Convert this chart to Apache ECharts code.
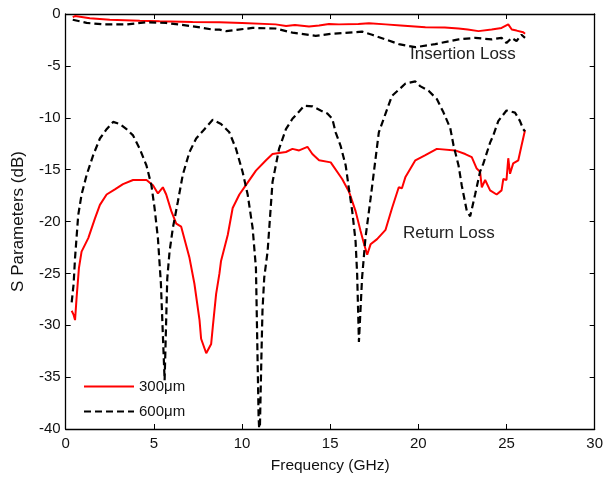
<!DOCTYPE html>
<html>
<head>
<meta charset="utf-8">
<script src="https://cdn.jsdelivr.net/npm/echarts@6/dist/echarts.min.js"></script>
<style>
  html, body { margin: 0; padding: 0; background: #fff; }
  #chart { width: 606px; height: 479px; }
</style>
</head>
<body>
<div id="chart"></div>
<script>
// Return loss, 300 um line
var rl300Freq = [0.34, 0.45, 0.53, 0.62, 0.75, 0.9, 1.28, 1.66, 1.94, 2.32, 2.79, 3.25, 3.82, 4.2, 4.58, 4.95, 5.23, 5.51, 5.7, 5.99, 6.27, 6.55, 7.02, 7.3, 7.59, 7.68, 7.97, 8.25, 8.34, 8.53, 8.72, 8.81, 9.19, 9.47, 9.85, 10.22, 10.79, 11.36, 11.73, 12.1, 12.49, 12.86, 13.24, 13.71, 13.99, 14.37, 15.03, 15.68, 16.06, 16.44, 16.72, 16.91, 17.1, 17.29, 17.66, 18.14, 18.51, 18.89, 19.07, 19.27, 19.83, 20.4, 21.05, 22.09, 22.66, 23.03, 23.31, 23.5, 23.6, 23.79, 24.07, 24.44, 24.72, 24.82, 25.0, 25.1, 25.2, 25.38, 25.67, 25.85, 26.05];
var rl300Db = [-28.6, -29.0, -29.5, -27.3, -24.5, -22.9, -21.6, -19.7, -18.4, -17.4, -16.9, -16.4, -16.0, -16.0, -16.0, -16.5, -17.3, -16.7, -17.4, -19.0, -20.2, -20.5, -23.5, -26.0, -29.5, -31.3, -32.7, -31.8, -30.2, -27.0, -25.0, -23.8, -21.3, -18.7, -17.4, -16.5, -15.1, -14.1, -13.5, -13.4, -13.3, -13.0, -13.15, -12.8, -13.5, -14.1, -14.3, -15.9, -17.1, -19.0, -20.9, -22.1, -23.2, -22.2, -21.7, -20.8, -18.7, -16.7, -16.8, -15.7, -14.1, -13.6, -13.0, -13.15, -13.5, -13.8, -14.9, -15.2, -16.7, -16.0, -17.0, -17.4, -17.0, -15.9, -16.0, -13.9, -15.4, -14.4, -14.1, -12.7, -11.2];

// Return loss, 600 um line
var rl600Freq = [0.34, 0.45, 0.53, 0.71, 0.9, 1.19, 1.56, 1.94, 2.32, 2.69, 3.07, 3.45, 3.82, 4.2, 4.58, 4.86, 5.04, 5.23, 5.4, 5.61, 5.76, 5.89, 6.08, 6.36, 6.64, 7.02, 7.4, 7.87, 8.34, 8.81, 9.28, 9.66, 10.03, 10.32, 10.6, 10.79, 10.94, 11.0, 11.1, 11.16, 11.26, 11.45, 11.73, 12.1, 12.49, 12.86, 13.24, 13.52, 13.99, 14.46, 14.84, 15.12, 15.31, 15.59, 15.88, 16.06, 16.25, 16.44, 16.53, 16.63, 16.81, 17.0, 17.29, 17.76, 18.14, 18.5, 18.89, 19.27, 19.83, 20.1, 20.58, 21.05, 21.43, 21.81, 22.0, 22.28, 22.46, 22.75, 22.94, 23.22, 23.5, 23.69, 24.07, 24.25, 24.54, 25.0, 25.48, 25.76, 25.95, 26.05];
var rl600Db = [-27.8, -26.0, -23.5, -19.4, -17.4, -15.5, -13.6, -12.0, -11.1, -10.4, -10.6, -11.1, -11.7, -13.0, -14.6, -16.5, -18.7, -21.6, -26.0, -35.3, -25.5, -22.9, -20.6, -18.1, -15.5, -13.3, -12.0, -11.1, -10.2, -10.6, -11.4, -13.0, -15.2, -17.4, -20.6, -24.5, -38.8, -41.0, -33.0, -28.6, -25.4, -22.9, -16.2, -13.0, -11.1, -10.1, -9.4, -8.85, -8.9, -9.3, -9.6, -10.1, -11.4, -12.7, -14.6, -16.8, -19.0, -21.9, -25.1, -31.6, -25.4, -21.6, -17.8, -11.4, -9.6, -7.9, -7.3, -6.7, -6.5, -6.95, -7.4, -8.2, -9.5, -11.0, -12.7, -14.6, -16.5, -19.0, -19.5, -17.4, -15.2, -14.4, -12.4, -11.7, -10.3, -9.3, -9.5, -10.3, -11.1, -11.3];

// Insertion loss, 300 um line
var il300Freq = [0.4, 0.53, 1.37, 2.5, 4.2, 5.33, 7.2, 8.72, 10.0, 11.9, 12.5, 13.0, 13.8, 14.37, 14.93, 15.5, 16.6, 17.2, 18.14, 19.0, 20.4, 21.5, 22.28, 22.8, 23.41, 24.16, 24.72, 25.1, 25.3, 25.57, 25.95, 26.05];
var il300Db = [-0.3, -0.2, -0.4, -0.55, -0.65, -0.7, -0.76, -0.8, -0.86, -1.0, -1.15, -1.05, -1.2, -1.1, -0.96, -1.0, -0.96, -0.9, -1.0, -1.1, -1.27, -1.3, -1.4, -1.5, -1.65, -1.5, -1.34, -1.0, -1.5, -1.6, -1.75, -1.9];

// Insertion loss, 600 um line
var il600Freq = [0.4, 1.19, 2.12, 3.45, 4.58, 5.7, 7.2, 8.34, 8.72, 9.1, 10.6, 11.9, 12.86, 14.18, 15.12, 16.81, 17.38, 18.14, 18.89, 19.83, 20.96, 22.28, 23.22, 24.16, 24.72, 25.0, 25.29, 25.57, 25.85, 26.05];
var il600Db = [-0.55, -0.86, -1.0, -1.0, -0.8, -0.86, -1.18, -1.5, -1.5, -1.65, -1.34, -1.4, -1.8, -2.1, -1.9, -1.7, -2.0, -2.45, -2.9, -3.2, -2.9, -2.45, -2.3, -2.45, -2.3, -2.8, -2.3, -2.6, -2.0, -2.3];

var seriesNames = ['300\u03bcm', '600\u03bcm'];
var xTicks = [0, 5, 10, 15, 20, 25, 30];
var yTicks = [0, -5, -10, -15, -20, -25, -30, -35, -40];

function pairs(xs, ys) {
  return xs.map(function (x, i) { return [x, ys[i]]; });
}

var FONT = 'Liberation Sans, Arial, sans-serif';
var RED = '#ff0000';
var BLACK = '#000000';

var redStyle = { color: RED, width: 2, type: 'solid' };
var blackStyle = { color: BLACK, width: 2.2, type: [7, 4] };

function lineSeries(name, data, style) {
  return {
    name: name,
    type: 'line',
    data: data,
    showSymbol: false,
    symbol: 'none',
    smooth: false,
    clip: true,
    animation: false,
    color: style.color,
    lineStyle: style,
    xAxisIndex: 0,
    yAxisIndex: 0
  };
}

var axisLine = { show: true, onZero: false, lineStyle: { color: BLACK, width: 1.3 } };
var tickIn = { show: true, inside: true, length: 5, lineStyle: { color: BLACK, width: 1 } };
var labelStyle = { color: '#111', fontFamily: FONT, fontSize: 15 };

var chart = echarts.init(document.getElementById('chart'), null, { renderer: 'canvas' });
chart.setOption({
  backgroundColor: '#ffffff',
  animation: false,
  grid: { left: 65.7, right: 9.3, top: 14, bottom: 46.3, containLabel: false },
  xAxis: [
    {
      type: 'value', min: xTicks[0], max: xTicks[xTicks.length - 1], interval: 5,
      position: 'bottom',
      name: 'Frequency (GHz)', nameLocation: 'middle', nameGap: 29,
      nameTextStyle: { color: '#111', fontFamily: FONT, fontSize: 15.5 },
      axisLine: axisLine, axisTick: tickIn,
      axisLabel: Object.assign({ margin: 7 }, labelStyle),
      splitLine: { show: false }
    },
    {
      type: 'value', min: xTicks[0], max: xTicks[xTicks.length - 1], interval: 5,
      position: 'top',
      axisLine: axisLine, axisTick: tickIn,
      axisLabel: { show: false }, splitLine: { show: false }
    }
  ],
  yAxis: [
    {
      type: 'value', min: yTicks[yTicks.length - 1], max: yTicks[0], interval: 5,
      position: 'left',
      name: 'S Parameters (dB)', nameLocation: 'middle', nameGap: 39,
      nameTextStyle: { color: '#111', fontFamily: FONT, fontSize: 17 },
      axisLine: axisLine, axisTick: tickIn,
      axisLabel: Object.assign({ margin: 5 }, labelStyle),
      splitLine: { show: false }
    },
    {
      type: 'value', min: yTicks[yTicks.length - 1], max: yTicks[0], interval: 5,
      position: 'right',
      axisLine: axisLine, axisTick: tickIn,
      axisLabel: { show: false }, splitLine: { show: false }
    }
  ],
  legend: {
    data: seriesNames,
    orient: 'vertical',
    left: 83, top: 379,
    padding: 0,
    itemWidth: 50, itemHeight: 14, itemGap: 10,
    itemStyle: { opacity: 0 },
    textStyle: { color: '#111', fontFamily: FONT, fontSize: 15 },
    backgroundColor: 'transparent',
    selectedMode: false
  },
  graphic: [
    {
      type: 'text', left: 410, top: 46,
      style: { text: 'Insertion Loss', fill: '#222', font: '17px ' + FONT }
    },
    {
      type: 'text', left: 403, top: 225,
      style: { text: 'Return Loss', fill: '#222', font: '17px ' + FONT }
    }
  ],
  series: [
    lineSeries(seriesNames[0], pairs(rl300Freq, rl300Db), redStyle),
    lineSeries(seriesNames[1], pairs(rl600Freq, rl600Db), blackStyle),
    lineSeries(seriesNames[0], pairs(il300Freq, il300Db), redStyle),
    lineSeries(seriesNames[1], pairs(il600Freq, il600Db), blackStyle)
  ]
});
</script>
</body>
</html>
